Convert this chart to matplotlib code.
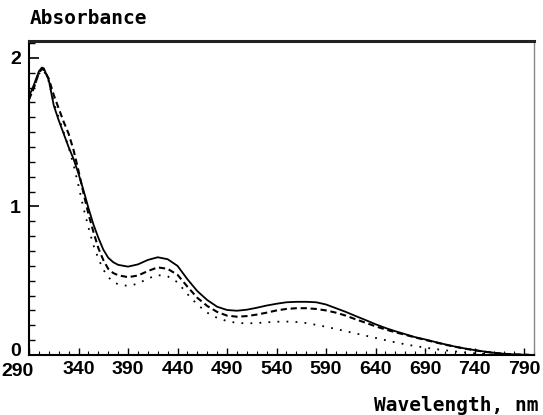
import matplotlib
matplotlib.use("Agg")
import matplotlib.pyplot as plt
import matplotlib.transforms as mtransforms
from matplotlib.ticker import MultipleLocator, FixedLocator

# Wavelength grid (nm)
wavelength = [290, 295, 300, 303, 305, 310, 315, 320, 325, 330, 335, 340, 345, 350,
              355, 360, 365, 370, 375, 380, 390, 400, 410, 420, 430, 440, 450, 460,
              470, 480, 490, 500, 510, 520, 530, 540, 550, 560, 570, 580, 590, 600,
              610, 620, 630, 640, 650, 660, 670, 680, 690, 700, 710, 720, 730, 740,
              750, 760, 770, 780, 790, 795]

# Solid curve
abs_solid = [1.74, 1.82, 1.91, 1.935, 1.93, 1.85, 1.68, 1.58, 1.49, 1.40, 1.32, 1.22, 1.11, 0.99,
             0.88, 0.79, 0.71, 0.655, 0.625, 0.607, 0.595, 0.61, 0.64, 0.658, 0.645, 0.60, 0.51, 0.43,
             0.37, 0.325, 0.303, 0.298, 0.305, 0.318, 0.333, 0.345, 0.355, 0.358, 0.358, 0.355, 0.34, 0.315,
             0.29, 0.262, 0.235, 0.207, 0.182, 0.16, 0.14, 0.12, 0.105, 0.088, 0.072, 0.057, 0.044, 0.033,
             0.023, 0.015, 0.008, 0.004, 0.002, 0.001]

# Dashed curve
abs_dashed = [1.72, 1.80, 1.90, 1.925, 1.92, 1.86, 1.75, 1.66, 1.57, 1.49, 1.38, 1.24, 1.09, 0.95,
              0.83, 0.72, 0.64, 0.58, 0.552, 0.537, 0.524, 0.535, 0.565, 0.59, 0.58, 0.54, 0.46, 0.385,
              0.33, 0.29, 0.265, 0.258, 0.262, 0.272, 0.285, 0.300, 0.31, 0.315, 0.315, 0.31, 0.30, 0.285,
              0.265, 0.24, 0.217, 0.193, 0.172, 0.153, 0.136, 0.118, 0.102, 0.086, 0.07, 0.056, 0.043, 0.032,
              0.022, 0.014, 0.008, 0.004, 0.002, 0.001]

# Dotted curve
abs_dotted = [1.72, 1.80, 1.89, 1.92, 1.915, 1.84, 1.70, 1.60, 1.50, 1.40, 1.28, 1.14, 0.99, 0.86,
              0.74, 0.65, 0.575, 0.525, 0.493, 0.476, 0.465, 0.48, 0.515, 0.538, 0.53, 0.49, 0.41, 0.34,
              0.285, 0.25, 0.228, 0.216, 0.213, 0.215, 0.22, 0.224, 0.225, 0.222, 0.215, 0.203, 0.19, 0.175,
              0.16, 0.145, 0.13, 0.115, 0.10, 0.085, 0.072, 0.06, 0.05, 0.04, 0.032, 0.024, 0.017, 0.011,
              0.007, 0.004, 0.002, 0.001, 0.0, 0.0]

x_ticks = [290, 340, 390, 440, 490, 540, 590, 640, 690, 740, 790]
y_ticks = [0, 1, 2]

fig = plt.figure(figsize=(5.43, 4.15), dpi=100)
ax = fig.add_axes([29 / 543, 60 / 415, 505 / 543, 314 / 415])

ax.plot(wavelength, abs_solid, color="black", lw=1.3, ls="-")
ax.plot(wavelength, abs_dashed, color="black", lw=1.5, ls=(0, (3.0, 1.8)))
ax.plot(wavelength, abs_dotted, color="black", lw=1.3, ls=(0, (1.0, 4.0)))

ax.set_xlim(290, 800)
ax.set_ylim(0, 2.114)

ax.xaxis.set_major_locator(FixedLocator(x_ticks))
ax.xaxis.set_minor_locator(MultipleLocator(10))
ax.yaxis.set_major_locator(FixedLocator(y_ticks))
ax.yaxis.set_minor_locator(MultipleLocator(0.1))

tick_font = dict(family="Liberation Sans", weight="bold", size=14)
ax.set_xticklabels([str(v) for v in x_ticks], **tick_font)
ax.set_yticklabels([str(v) for v in y_ticks], **tick_font)

ax.tick_params(axis="x", which="major", direction="in", length=5, width=1, pad=4)
ax.tick_params(axis="x", which="minor", direction="in", length=3, width=0.8)
ax.tick_params(axis="y", which="major", direction="in", length=7, width=1.2, pad=6)
ax.tick_params(axis="y", which="minor", direction="in", length=4, width=1.0)

# shift first x label left and the "0" y label up, like the reference
lbl = ax.get_xticklabels()[0]
lbl.set_transform(lbl.get_transform() + mtransforms.ScaledTranslation(-12 / 100, -2 / 100, fig.dpi_scale_trans))
ylbl = ax.get_yticklabels()[0]
ylbl.set_transform(ylbl.get_transform() + mtransforms.ScaledTranslation(0, 6 / 100, fig.dpi_scale_trans))

for s in ["left", "bottom"]:
    ax.spines[s].set_linewidth(1.5)
    ax.spines[s].set_color("black")
ax.spines["top"].set_linewidth(2.2)
ax.spines["top"].set_color("#222222")
ax.spines["right"].set_linewidth(1.0)
ax.spines["right"].set_color("#888888")

label_font = dict(family="DejaVu Sans Mono", weight="bold", size=14)
fig.text(30 / 543, 1 - 19 / 415, "Absorbance", ha="left", va="center", **label_font)
fig.text(538 / 543, 1 - 405 / 415, "Wavelength, nm", ha="right", va="center", **label_font)

fig.savefig("out.png", dpi=100)
